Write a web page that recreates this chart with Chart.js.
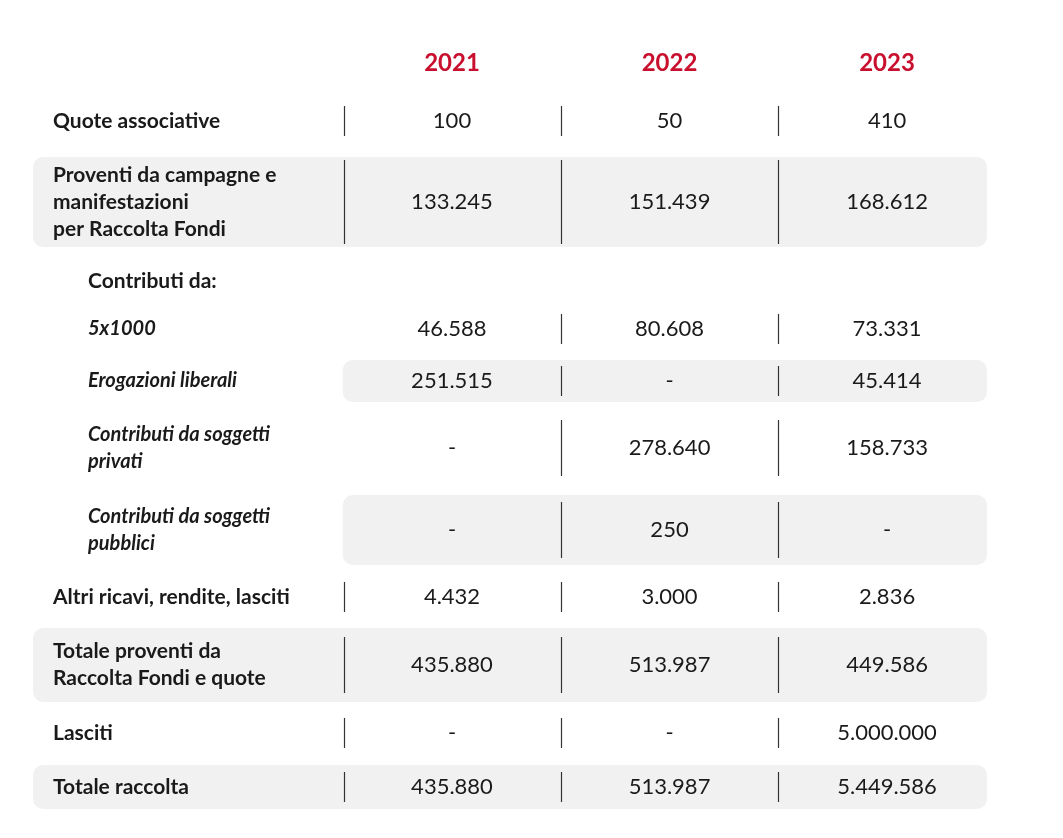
<!DOCTYPE html>
<html><head><meta charset="utf-8">
<script src="https://cdn.jsdelivr.net/npm/chart.js@4"></script>
<style>html,body{margin:0;padding:0;background:#fff}#wrap{width:1063px;height:838px}</style>
</head><body><div id="wrap"><canvas id="c"></canvas></div>
<script>
const years = ['2021','2022','2023'];
const rowLabels = [
  ['Quote associative'],
  ['Proventi da campagne e','manifestazioni','per Raccolta Fondi'],
  ['Contributi da:'],
  ['5x1000'],
  ['Erogazioni liberali'],
  ['Contributi da soggetti','privati'],
  ['Contributi da soggetti','pubblici'],
  ['Altri ricavi, rendite, lasciti'],
  ['Totale proventi da','Raccolta Fondi e quote'],
  ['Lasciti'],
  ['Totale raccolta']
];
const v2021 = ['100','133.245','','46.588','251.515','-','-','4.432','435.880','-','435.880'];
const v2022 = ['50','151.439','','80.608','-','278.640','250','3.000','513.987','-','513.987'];
const v2023 = ['410','168.612','','73.331','45.414','158.733','-','2.836','449.586','5.000.000','5.449.586'];
// layout (styling only)
const rowCenter = [121,202,281,329,381,448,530,597,665,733,787];
const rowHalf   = [15,45,0,15,21,30,35,15,37,15,22];
const sepHalf   = [15,42,0,15,15,28,28,15,28,15,15];
const rowStyle  = ['b','b','bi','i','i','i','i','b','b','b','b']; // bi: bold indent; i: italic indent
const rowBg     = [0,'full',0,0,'vals',0,'vals',0,'full',0,'full'];
const firstSep  = [1,1,0,0,0,0,0,1,1,1,1];

const tablePlugin = {
  id:'table',
  beforeDatasetsDraw(chart){
    const {ctx, scales:{x,y}} = chart;
    const colX = i => x.getPixelForValue(i+1);
    const sepX = i => (colX(i)+colX(i-1))/2 + (i===0?0:0);
    const sx = [x.getPixelForValue(0.5)+0.5, x.getPixelForValue(1.5), x.getPixelForValue(2.5)];
    ctx.save();
    // backgrounds
    rowCenter.forEach((c,r)=>{
      if(!rowBg[r]) return;
      const top = y.getPixelForValue(c-rowHalf[r]), bot = y.getPixelForValue(c+rowHalf[r]);
      const l = rowBg[r]==='full' ? 33 : sx[0]-1, rgt = 987;
      ctx.fillStyle='#f1f1f1';
      ctx.beginPath(); ctx.roundRect(l,top,rgt-l,bot-top,10); ctx.fill();
    });
    // header
    ctx.fillStyle='#c8102e'; ctx.font='bold 24px Lato'; ctx.textAlign='center'; ctx.textBaseline='middle';
    years.forEach((yr,i)=>ctx.fillText(yr,colX(i),y.getPixelForValue(63)));
    // rows
    const vals=[v2021,v2022,v2023];
    rowCenter.forEach((c,r)=>{
      const yc=y.getPixelForValue(c);
      const lines=rowLabels[r]; const lh=27;
      ctx.fillStyle='#1a1a1a'; ctx.textAlign='left';
      const st=rowStyle[r];
      ctx.font = st==='i' ? 'italic bold 20px Lato' : 'bold 21px Lato';
      const lx = st==='b' ? 53 : 88;
      lines.forEach((t,k)=>ctx.fillText(t,lx,yc+(k-(lines.length-1)/2)*lh));
      ctx.font='22px Lato'; ctx.textAlign='center';
      vals.forEach((arr,i)=>{ if(arr[r]) ctx.fillText(arr[r],colX(i),yc); });
      if(sepHalf[r]){
        ctx.strokeStyle='#333'; ctx.lineWidth=1.2;
        for(let i=firstSep[r]?0:1;i<3;i++){
          ctx.beginPath(); ctx.moveTo(Math.round(sx[i])+0.5,yc-sepHalf[r]); ctx.lineTo(Math.round(sx[i])+0.5,yc+sepHalf[r]); ctx.stroke();
        }
      }
    });
    ctx.restore();
  }
};

new Chart(document.getElementById('c'),{
  type:'scatter',
  data:{datasets:[{data:[]}]},
  options:{
    responsive:true, maintainAspectRatio:false, animation:false,
    layout:{padding:0},
    plugins:{legend:{display:false},tooltip:{enabled:false}},
    scales:{
      x:{type:'linear',display:false,min:-1.078,max:3.809},
      y:{type:'linear',display:false,min:0,max:838,reverse:true}
    }
  },
  plugins:[tablePlugin]
});
</script></body></html>
